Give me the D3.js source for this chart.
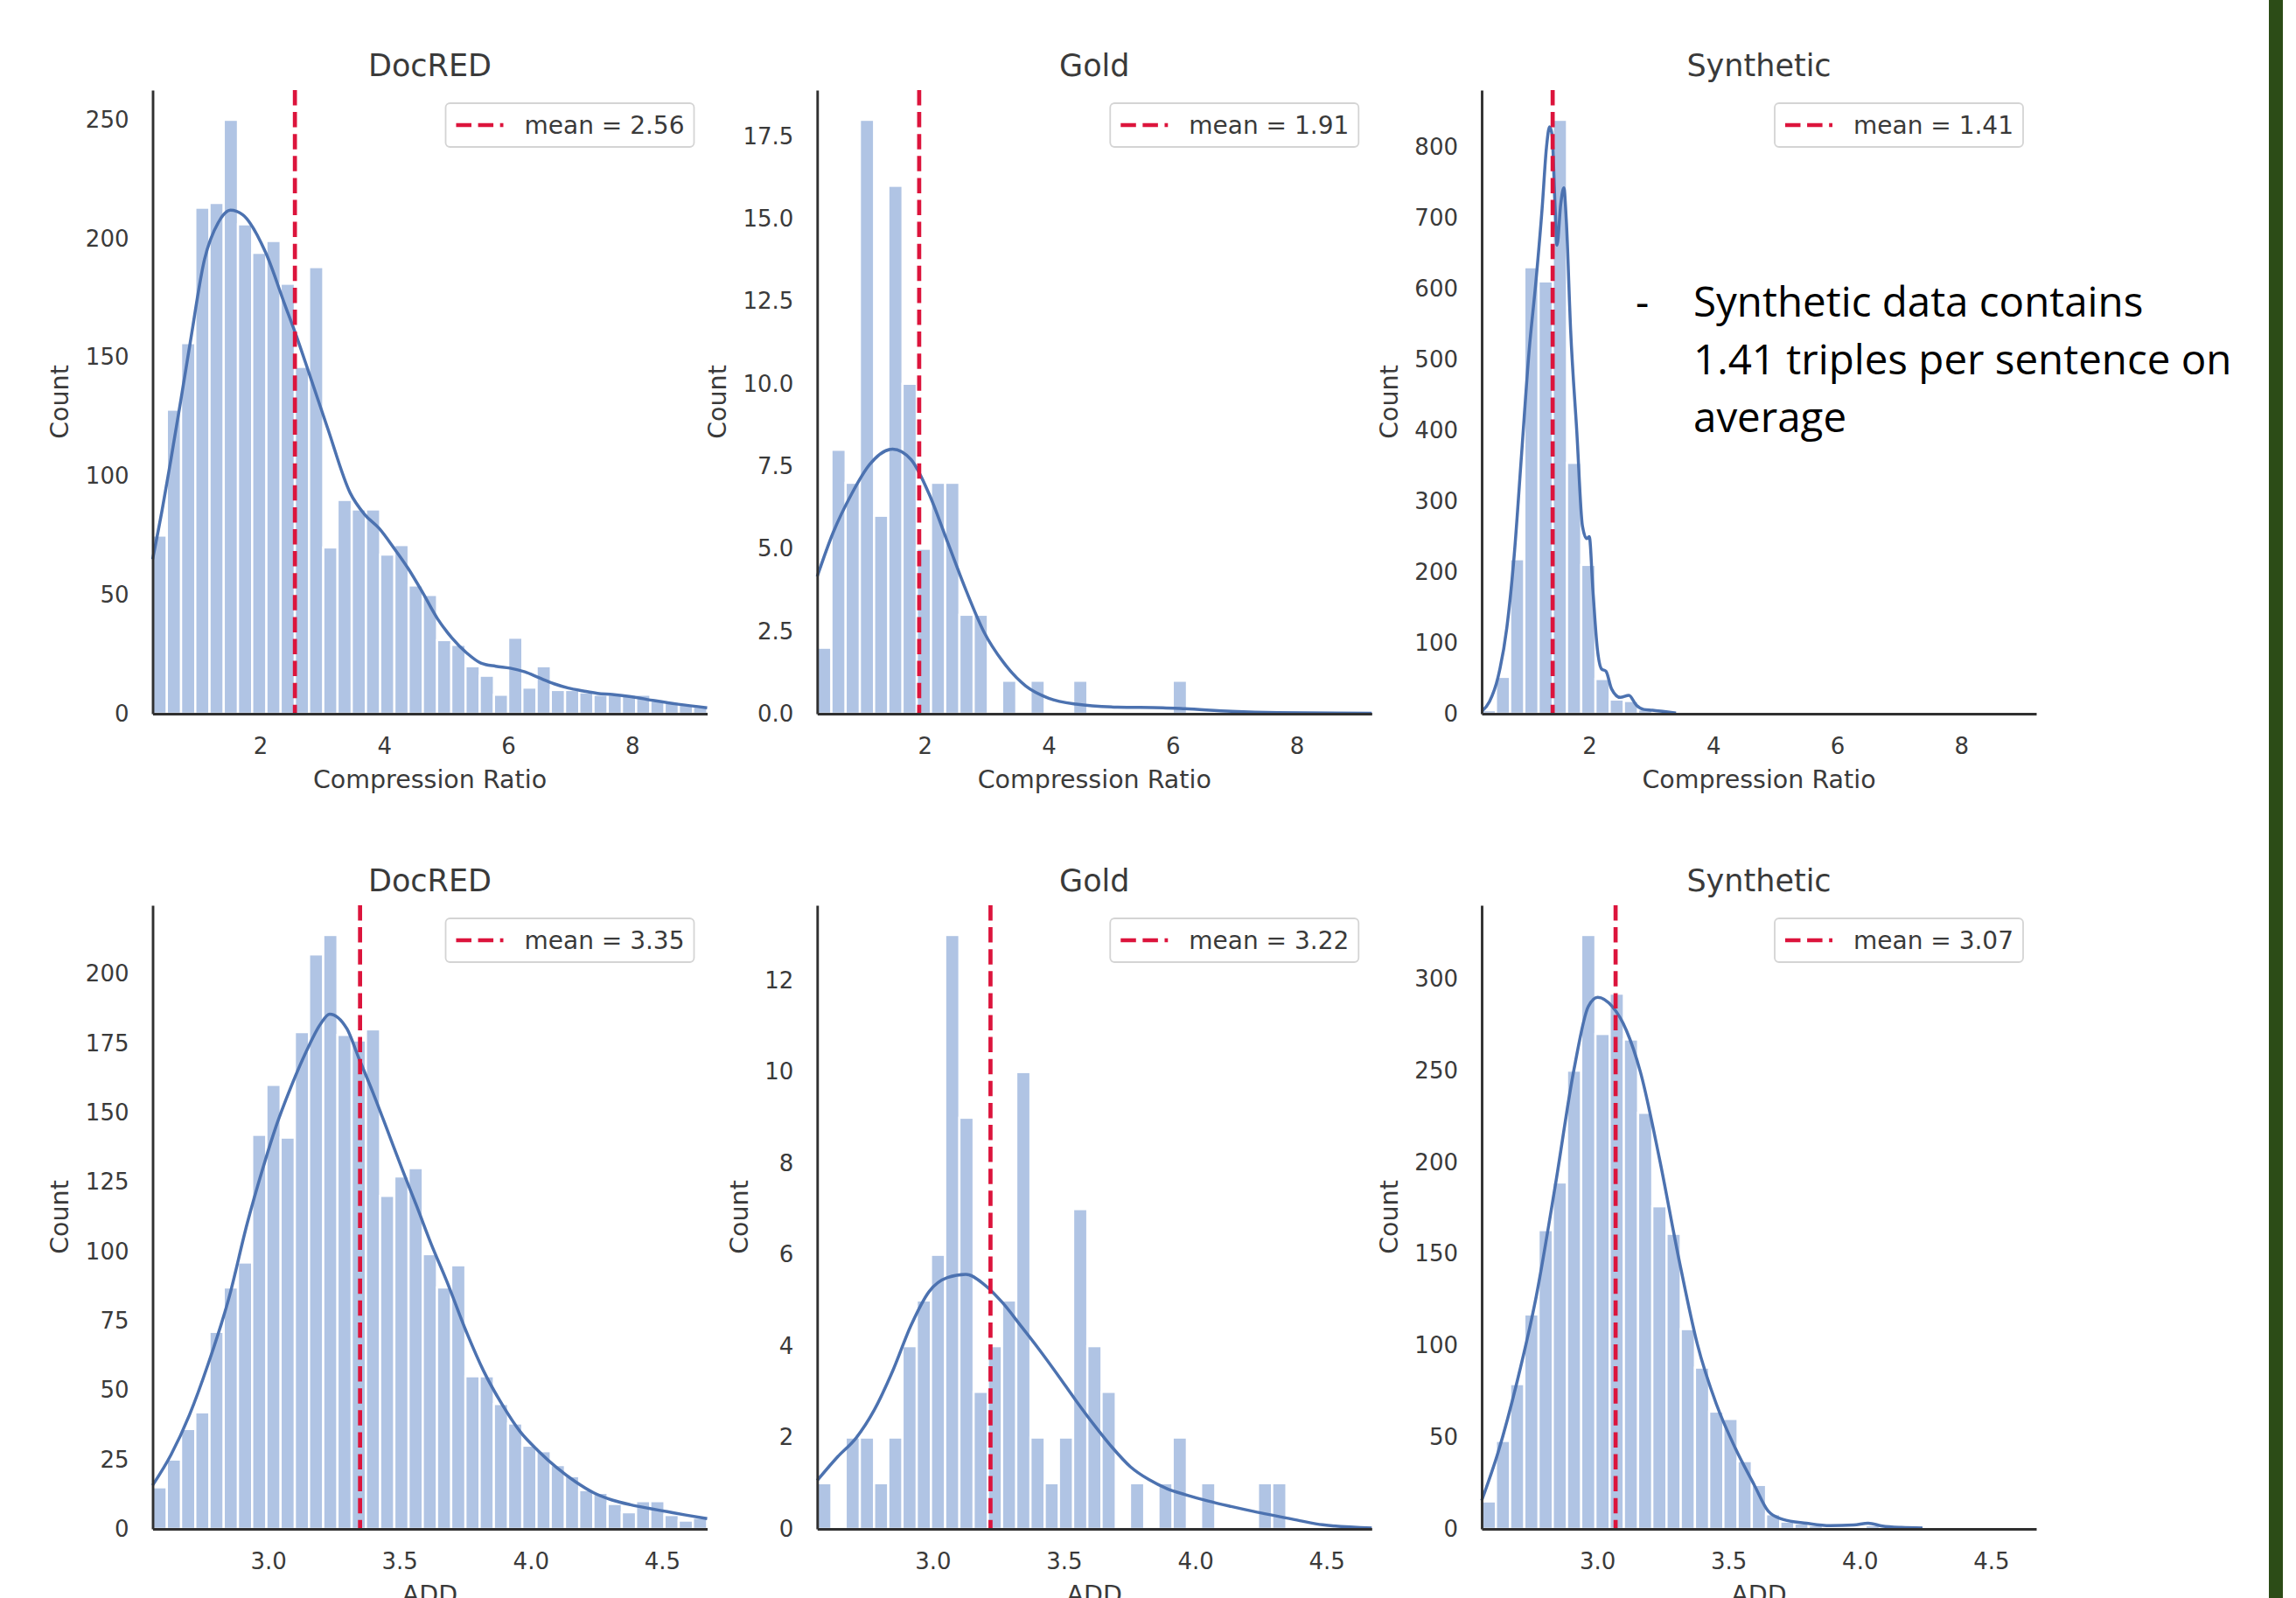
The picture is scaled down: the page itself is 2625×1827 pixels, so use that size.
<!DOCTYPE html>
<html>
<head>
<meta charset="utf-8">
<script src="https://d3js.org/d3.v7.min.js"></script>
<style>
    body { margin: 0; background: white; }
    svg { display: block; }
</style>
<title>Compression ratio and ADD histograms</title>
</head>
<body>
<svg id="fig" width="2625" height="1827"></svg>
<script>
    // ---- values ----
    const titles = ["DocRED", "Gold", "Synthetic"];
    const xLabels = ["Compression Ratio", "ADD"];

    const crRange = [0.265, 9.21];
    const addRange = [2.56, 4.672];
    const crTicks = [2, 4, 6, 8];
    const addTicks = [3.0, 3.5, 4.0, 4.5];

    // histogram bins (first edge, bin width)
    const crBinStart = 0.265, crBinWidth = 0.2294;
    const addBinStart = 2.56, addBinWidth = 0.05415;

    const docredCrCounts = [75, 128, 156, 213, 215, 250, 206, 194, 199, 181, 146, 188, 70, 90, 86, 86, 67, 71, 54, 50,
        31, 29, 20, 16, 8, 32, 11, 20, 10, 10, 9, 8, 8, 8, 8, 6, 5, 4, 3];
    const goldCrCounts = [2, 8, 7, 18, 6, 16, 10, 5, 7, 7, 3, 3, 0, 1, 0, 1, 0, 0, 1, 0, 0, 0, 0, 0, 0, 1];
    const synthCrCounts = [5, 52, 218, 630, 610, 838, 354, 210, 49, 20, 18, 6, 3, 1];

    const docredAddCounts = [15, 25, 36, 42, 71, 87, 96, 142, 160, 141, 179, 207, 214, 178, 176, 180, 120, 127, 130, 99,
        87, 95, 55, 55, 45, 38, 30, 28, 23, 19, 14, 13, 9, 6, 10, 10, 5, 3, 4];
    const goldAddCounts = [1, 0, 2, 2, 1, 2, 4, 5, 6, 13, 9, 3, 4, 5, 10, 2, 1, 2, 7, 4, 3, 0, 1, 0, 1, 2, 0, 1, 0, 0, 0, 1, 1];
    const synthAddCounts = [15, 48, 79, 117, 163, 189, 250, 324, 270, 292, 267, 227, 176, 161, 109, 88, 64, 60, 37, 24,
        8, 4, 3, 2, 1, 1, 1, 2, 1, 0, 1];

    // kde curves, [x, count]
    const docredCrKde = [[0.265, 65], [0.42, 86], [0.56, 107], [0.72, 132], [0.87, 156], [1.10, 191], [1.33, 207],
        [1.52, 212], [1.72, 210], [2.09, 194], [2.40, 172], [2.57, 160], [2.78, 144], [3.09, 120], [3.45, 93],
        [3.68, 84], [3.92, 78], [4.15, 70], [4.39, 61], [4.62, 51], [4.86, 40], [5.09, 32], [5.33, 25.6], [5.56, 21.3],
        [5.80, 20], [6.03, 19.2], [6.27, 17.6], [6.50, 15.1], [6.74, 12.6], [6.97, 10.8], [7.21, 9.6], [7.44, 8.6],
        [7.68, 8.1], [7.98, 7.2], [8.36, 5.5], [8.74, 4], [9.21, 2.5]];
    const goldCrKde = [[0.265, 4.16], [0.52, 5.48], [0.82, 6.66], [1.11, 7.55], [1.48, 8.02], [1.78, 7.7], [2.07, 6.66],
        [2.37, 5.19], [2.67, 3.72], [2.96, 2.46], [3.26, 1.58], [3.63, 0.84], [4.0, 0.47], [4.44, 0.29], [5.11, 0.2],
        [5.84, 0.18], [6.2, 0.15], [6.95, 0.07], [7.69, 0.03], [9.21, 0.01]];
    const synthCrKde = [[0.265, 3], [0.39, 17], [0.53, 52], [0.67, 121], [0.79, 224], [0.91, 368], [1.03, 512],
        [1.14, 610], [1.24, 713], [1.31, 799], [1.36, 828], [1.40, 817], [1.45, 713], [1.48, 661], [1.54, 719],
        [1.59, 742], [1.63, 696], [1.70, 541], [1.80, 397], [1.89, 265], [1.96, 247], [2.0, 250], [2.06, 173],
        [2.13, 92], [2.20, 63], [2.27, 60], [2.36, 35], [2.5, 23], [2.64, 26], [2.76, 12], [2.88, 6], [3.02, 5],
        [3.21, 3], [3.40, 1]];

    const docredAddKde = [[2.56, 15.7], [2.63, 26.7], [2.70, 41], [2.77, 59], [2.85, 83], [2.92, 110], [2.98, 130],
        [3.03, 145], [3.09, 160], [3.145, 172], [3.20, 182], [3.234, 185.5], [3.30, 180.2], [3.345, 169.7],
        [3.40, 157], [3.455, 143.4], [3.51, 129.7], [3.567, 116], [3.622, 102.4], [3.678, 89.8], [3.755, 71],
        [3.82, 57], [3.89, 45], [3.96, 35], [4.03, 28], [4.10, 22], [4.17, 17], [4.24, 13], [4.31, 10.4],
        [4.38, 8.7], [4.45, 7.4], [4.52, 6.2], [4.59, 5], [4.672, 3.7]];
    const goldAddKde = [[2.56, 1.06], [2.638, 1.58], [2.708, 1.99], [2.778, 2.61], [2.847, 3.45], [2.917, 4.45],
        [2.987, 5.2], [3.056, 5.5], [3.126, 5.57], [3.196, 5.35], [3.266, 4.95], [3.335, 4.45], [3.405, 3.93],
        [3.475, 3.38], [3.544, 2.82], [3.614, 2.28], [3.684, 1.78], [3.753, 1.36], [3.823, 1.08], [3.893, 0.88],
        [3.962, 0.75], [4.049, 0.61], [4.137, 0.49], [4.224, 0.38], [4.311, 0.28], [4.398, 0.18], [4.485, 0.09],
        [4.672, 0.02]];
    const synthAddKde = [[2.56, 15.5], [2.623, 42], [2.696, 81], [2.768, 127], [2.84, 187], [2.912, 251], [2.966, 285],
        [3.002, 290], [3.057, 285], [3.111, 272], [3.165, 249], [3.237, 202], [3.31, 148], [3.381, 101], [3.454, 68],
        [3.526, 44], [3.598, 24], [3.652, 9.6], [3.707, 5.2], [3.797, 3.1], [3.887, 1.8], [3.977, 2.1], [4.032, 3.1],
        [4.086, 1.6], [4.158, 0.8], [4.239, 0.5]];

    const crMeans = [2.56, 1.91, 1.41];
    const addMeans = [3.35, 3.22, 3.07];

    const crYTicks = [[0, 50, 100, 150, 200, 250], [0, 2.5, 5, 7.5, 10, 12.5, 15, 17.5], [0, 100, 200, 300, 400, 500, 600, 700, 800]];
    const addYTicks = [[0, 25, 50, 75, 100, 125, 150, 175, 200], [0, 2, 4, 6, 8, 10, 12], [0, 50, 100, 150, 200, 250, 300]];

    const noteLines = ["Synthetic data contains", "1.41 triples per sentence on", "average"];

    // ---- layout ----
    const colLeft = [174.5, 934.3, 1694];
    const rowTop = [103, 1035];
    const plotW = 634, plotH = 713;
    const font = "'DejaVu Sans', sans-serif";
    const ink = "#3a3a3a";

    const fig = d3.select("#fig");
    fig.append("rect").attr("width", 2625).attr("height", 1827).attr("fill", "white");

    const panels = [
        {row: 0, col: 0, counts: docredCrCounts, kde: docredCrKde, mean: crMeans[0], yTicks: crYTicks[0], yFmt: d3.format("d")},
        {row: 0, col: 1, counts: goldCrCounts, kde: goldCrKde, mean: crMeans[1], yTicks: crYTicks[1], yFmt: d3.format(".1f")},
        {row: 0, col: 2, counts: synthCrCounts, kde: synthCrKde, mean: crMeans[2], yTicks: crYTicks[2], yFmt: d3.format("d")},
        {row: 1, col: 0, counts: docredAddCounts, kde: docredAddKde, mean: addMeans[0], yTicks: addYTicks[0], yFmt: d3.format("d")},
        {row: 1, col: 1, counts: goldAddCounts, kde: goldAddKde, mean: addMeans[1], yTicks: addYTicks[1], yFmt: d3.format("d")},
        {row: 1, col: 2, counts: synthAddCounts, kde: synthAddKde, mean: addMeans[2], yTicks: addYTicks[2], yFmt: d3.format("d")}
    ];

    panels.forEach(function(p) {
        const isCr = p.row === 0;
        const binStart = isCr ? crBinStart : addBinStart;
        const binWidth = isCr ? crBinWidth : addBinWidth;

        const x = d3.scaleLinear().domain(isCr ? crRange : addRange).range([0, plotW]);
        const y = d3.scaleLinear().domain([0, d3.max(p.counts) * 1.05]).range([plotH, 0]);

        const g = fig.append("g")
            .attr("transform", "translate(" + colLeft[p.col] + "," + rowTop[p.row] + ")");

        // bars
        const bins = p.counts.map(function(c, i) {
            return {x0: binStart + i * binWidth, x1: binStart + (i + 1) * binWidth, count: c};
        }).filter(function(d) { return d.count > 0; });

        g.append("g")
            .selectAll("rect")
            .data(bins)
            .join("rect")
            .attr("x", function(d) { return x(d.x0); })
            .attr("width", function(d) { return x(d.x1) - x(d.x0); })
            .attr("y", function(d) { return y(d.count); })
            .attr("height", function(d) { return y(0) - y(d.count); })
            .attr("fill", "#b0c4e4")
            .attr("stroke", "white")
            .attr("stroke-width", 2.5);

        // kde
        const line = d3.line()
            .x(function(d) { return x(d[0]); })
            .y(function(d) { return y(d[1]); })
            .curve(d3.curveMonotoneX);
        g.append("path")
            .datum(p.kde)
            .attr("d", line)
            .attr("fill", "none")
            .attr("stroke", "#4c72b0")
            .attr("stroke-width", 3.5);

        // mean line
        g.append("line")
            .attr("x1", x(p.mean)).attr("x2", x(p.mean))
            .attr("y1", 0).attr("y2", plotH)
            .attr("stroke", "#dc143c")
            .attr("stroke-width", 4.7)
            .attr("stroke-dasharray", "17.5,7.6");

        // axes
        const yAxis = g.append("g")
            .call(d3.axisLeft(y).tickValues(p.yTicks).tickFormat(p.yFmt).tickSize(0).tickSizeOuter(0).tickPadding(27));
        const xAxis = g.append("g")
            .attr("transform", "translate(0," + plotH + ")")
            .call(d3.axisBottom(x).tickValues(isCr ? crTicks : addTicks)
                .tickFormat(isCr ? d3.format("d") : d3.format(".1f"))
                .tickSize(0).tickSizeOuter(0).tickPadding(28));

        [yAxis, xAxis].forEach(function(a) {
            a.select(".domain").attr("stroke", "#303030").attr("stroke-width", 2.9);
            a.selectAll(".tick text")
                .style("font-family", font)
                .style("font-size", "26px")
                .attr("fill", ink);
        });

        const maxW = d3.max(yAxis.selectAll(".tick text").nodes(), function(n) { return n.getComputedTextLength(); });

        g.append("text")
            .attr("transform", "translate(" + (-(27 + maxW + 29)) + "," + (plotH / 2) + ") rotate(-90)")
            .attr("text-anchor", "middle")
            .attr("dy", "0.33em")
            .style("font-family", font)
            .style("font-size", "28.5px")
            .attr("fill", ink)
            .text("Count");

        g.append("text")
            .attr("x", plotW / 2)
            .attr("y", plotH + 85)
            .attr("text-anchor", "middle")
            .style("font-family", font)
            .style("font-size", "28.5px")
            .attr("fill", ink)
            .text(xLabels[p.row]);

        g.append("text")
            .attr("x", plotW / 2)
            .attr("y", -16)
            .attr("text-anchor", "middle")
            .style("font-family", font)
            .style("font-size", "35px")
            .attr("fill", ink)
            .text(titles[p.col]);

        // legend
        const leg = g.append("g");
        const legText = leg.append("text")
            .style("font-family", font)
            .style("font-size", "28px")
            .attr("fill", ink)
            .text("mean = " + p.mean.toFixed(2));
        const legW = 90 + legText.node().getComputedTextLength() + 11;
        const lx = plotW - 15 - legW, ly = 15;
        leg.insert("rect", "text")
            .attr("x", lx).attr("y", ly)
            .attr("width", legW).attr("height", 50)
            .attr("rx", 5)
            .attr("fill", "white").attr("fill-opacity", 0.8)
            .attr("stroke", "#d4d4d4").attr("stroke-width", 1.8);
        leg.append("line")
            .attr("x1", lx + 12).attr("x2", lx + 66)
            .attr("y1", ly + 25).attr("y2", ly + 25)
            .attr("stroke", "#dc143c")
            .attr("stroke-width", 4.7)
            .attr("stroke-dasharray", "17.5,7.6");
        legText.attr("x", lx + 90).attr("y", ly + 25 + 9.5);
    });

    // side note
    fig.append("text")
        .attr("x", 1870).attr("y", 362)
        .style("font-family", "'Open Sans', sans-serif")
        .style("font-size", "47.5px")
        .attr("fill", "#000")
        .text("-");
    fig.append("g")
        .selectAll("text")
        .data(noteLines)
        .join("text")
        .attr("x", 1936)
        .attr("y", function(d, i) { return 362 + i * 66; })
        .style("font-family", "'Open Sans', sans-serif")
        .style("font-size", "47.5px")
        .attr("fill", "#000")
        .text(function(d) { return d; });

    // slide edge
    fig.append("rect")
        .attr("x", 2594).attr("y", 0)
        .attr("width", 16).attr("height", 1827)
        .attr("fill", "#2c4c17");
</script>
</body>
</html>
